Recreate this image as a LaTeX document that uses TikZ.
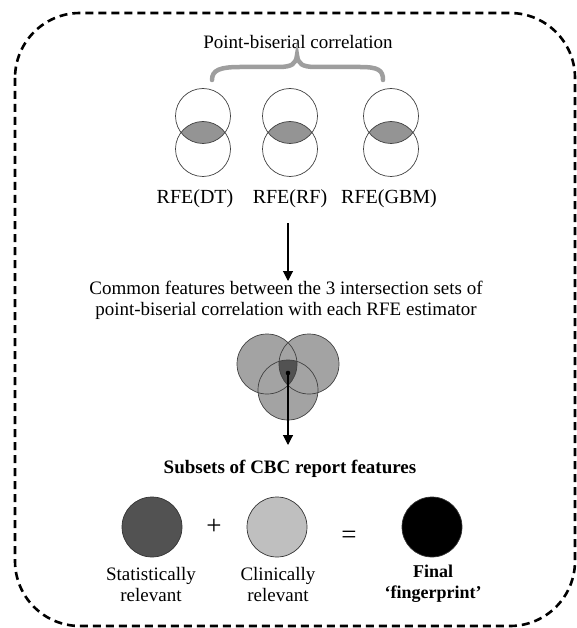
\documentclass[tikz,border=0pt]{standalone}
\usepackage{fontspec}
\setmainfont{Liberation Serif}
\usetikzlibrary{arrows.meta}
\begin{document}
\begin{tikzpicture}[x=1pt,y=-1pt,
  txt/.style={font=\fontsize{19}{21}\selectfont, inner sep=0pt, align=center},
  btxt/.style={font=\fontsize{19}{21}\selectfont\bfseries, inner sep=0pt, align=center},
  ring/.style={circle, draw=black!75, line width=0.7pt, minimum size=55pt, inner sep=0pt},
  vring/.style={circle, draw=black!75, line width=0.7pt, minimum size=60pt, inner sep=0pt},
  dot/.style={circle, draw=black!80, line width=0.7pt, minimum size=60pt, inner sep=0pt},
  flow/.style={line width=1.1pt, -{Triangle[width=10pt,length=10pt]}},
  brace/.style={draw=black!38, line width=4.5pt, line cap=round}
]
\useasboundingbox (0,0) rectangle (577,628);
\draw[line width=2.6pt, dash pattern=on 8pt off 5pt, rounded corners=65pt]
  (15,13) rectangle (575,626);

% heading and brace
\node[txt] (pbc) at (298,42) {Point-biserial correlation};
\draw[brace] (212,80) .. controls (212,70) and (220,67) .. (240,67)
  -- (278,67) .. controls (292,67) and (296,64) .. (297,55)
  .. controls (298,64) and (302,67) .. (316,67)
  -- (360,67) .. controls (378,67) and (383,70) .. (383,80);

% three pairs of circles with shaded intersections
\foreach \n/\x in {1/203,2/290,3/391}{
  \begin{scope}
    \clip (\x,116) circle[radius=27.5pt];
    \fill[black!42] (\x,149) circle[radius=27.5pt];
  \end{scope}
  \node[ring] (u\n) at (\x,116) {};
  \node[ring] (l\n) at (\x,149) {};
}
\node[txt, font=\fontsize{20}{22}\selectfont] (dt)  at (195,199) {RFE(DT)};
\node[txt, font=\fontsize{20}{22}\selectfont] (rf)  at (290,199) {RFE(RF)};
\node[txt, font=\fontsize{20}{22}\selectfont] (gbm) at (389,199) {RFE(GBM)};

% first arrow
\coordinate (a1) at (288,223);
\node[txt] (common) at (286,300) {Common features between the 3 intersection sets of\\point-biserial correlation with each RFE estimator};
\draw[flow] (a1) -- (288,281);

% three-set Venn diagram
\fill[black!36] (267,364) circle[radius=30pt];
\fill[black!36] (309,364) circle[radius=30pt];
\fill[black!36] (288,390) circle[radius=30pt];
\begin{scope}
  \clip (267,364) circle[radius=30pt];
  \clip (309,364) circle[radius=30pt];
  \fill[black!68] (288,390) circle[radius=30pt];
\end{scope}
\node[vring] (vl) at (267,364) {};
\node[vring] (vr) at (309,364) {};
\node[vring] (vb) at (288,390) {};
\fill (288,373) circle[radius=2.3pt];
\coordinate (core) at (288,373);

\node[btxt] (subsets) at (290,469) {Subsets of CBC report features};
\draw[flow] (core) -- (288,445);

% feature subsets
\node[dot, fill=black!68] (stat) at (152,527) {};
\node[dot, fill=black!25] (clin) at (277,527) {};
\node[dot, fill=black] (fin) at (432,527) {};
\node[txt, font=\fontsize{27}{27}\selectfont] (plus) at (214,527) {+};
\node[txt, font=\fontsize{27}{27}\selectfont] (eq) at (349,537) {=};

\node[txt] (statl) at (151,584) {Statistically\\relevant};
\node[txt] (clinl) at (278,584) {Clinically\\relevant};
\node[btxt, font=\fontsize{18}{21}\selectfont\bfseries] (finl) at (433,584) {Final\\‘fingerprint’};
\end{tikzpicture}
\end{document}
